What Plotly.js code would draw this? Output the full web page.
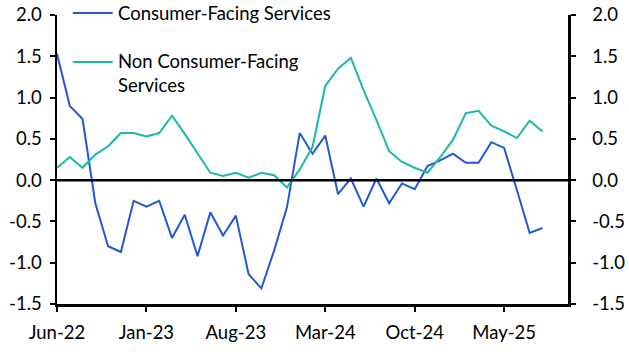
<!DOCTYPE html>
<html>
<head>
<meta charset="utf-8">
<script src="https://cdn.plot.ly/plotly-3.0.1.min.js"></script>
<style>html,body{margin:0;padding:0;background:#fff}#chart{width:629px;height:354px}</style>
</head>
<body>
<div id="chart"></div>
<script>
const months = ["Jun-22","Jul-22","Aug-22","Sep-22","Oct-22","Nov-22","Dec-22",
  "Jan-23","Feb-23","Mar-23","Apr-23","May-23","Jun-23","Jul-23",
  "Aug-23","Sep-23","Oct-23","Nov-23","Dec-23","Jan-24","Feb-24",
  "Mar-24","Apr-24","May-24","Jun-24","Jul-24","Aug-24","Sep-24",
  "Oct-24","Nov-24","Dec-24","Jan-25","Feb-25","Mar-25","Apr-25",
  "May-25","Jun-25","Jul-25","Aug-25"];
const consumerFacing = [1.53,0.90,0.74,-0.28,-0.80,-0.87,-0.25,
  -0.32,-0.25,-0.70,-0.42,-0.92,-0.39,-0.67,
  -0.43,-1.14,-1.31,-0.85,-0.33,0.57,0.32,
  0.54,-0.17,0.02,-0.32,0.02,-0.28,-0.04,
  -0.11,0.17,0.24,0.32,0.21,0.21,0.46,
  0.39,-0.12,-0.64,-0.58];
const nonConsumerFacing = [0.15,0.28,0.15,0.31,0.41,0.57,0.57,
  0.53,0.57,0.78,0.56,0.33,0.09,0.05,
  0.09,0.03,0.09,0.06,-0.09,0.13,0.40,
  1.14,1.35,1.48,1.09,0.73,0.35,0.22,
  0.15,0.09,0.28,0.49,0.81,0.84,0.66,
  0.59,0.51,0.72,0.59];
const tickMonths = ["Jun-22","Jan-23","Aug-23","Mar-24","Oct-24","May-25"];
const yTicks = [-1.5,-1.0,-0.5,0.0,0.5,1.0,1.5,2.0];
const seriesNames = ["Consumer-Facing Services","Non Consumer-Facing<br>Services"];
const colors = ["#2358D4","#1DB8A6"];

const FONT = "Lato, 'Noto Sans', sans-serif";
const FS = 18.5;
const traces = [
  {x: months, y: nonConsumerFacing, type:"scatter", mode:"lines", name:seriesNames[1],
   line:{color:colors[1], width:2}, showlegend:false, yaxis:"y2"},
  {x: months, y: consumerFacing, type:"scatter", mode:"lines", name:seriesNames[0],
   line:{color:colors[0], width:2}, showlegend:false}
];
const yTickText = yTicks.map(v => v.toFixed(1));
const axY = {
  range:[-1.5,2.0], tickvals:yTicks, ticktext:yTickText,
  showgrid:false, zeroline:false, showline:true, linecolor:"#000", linewidth:2.5,
  ticks:"outside", ticklen:5, tickwidth:2, tickcolor:"#000",
  tickfont:{family:FONT, size:FS, color:"#000"}, fixedrange:true
};
const layout = {
  width:629, height:354,
  margin:{l:57, r:61, t:15, b:50},
  paper_bgcolor:"#fff", plot_bgcolor:"#fff",
  showlegend:false,
  xaxis:{type:"category", categoryorder:"array", categoryarray:months,
    range:[0,40], tickvals:tickMonths, ticktext:tickMonths,
    showgrid:false, zeroline:false, showline:true, linecolor:"#000", linewidth:2.5,
    ticks:"outside", ticklen:5, tickwidth:2, tickcolor:"#000", ticklabelstandoff:5,
    tickfont:{family:FONT, size:FS, color:"#000"}},
  yaxis:Object.assign({}, axY, {side:"left", ticklabelstandoff:4}),
  yaxis2:Object.assign({}, axY, {side:"right", overlaying:"y", ticklabelstandoff:13}),
  shapes:[
    {type:"line", xref:"paper", yref:"y", x0:0, x1:1, y0:0, y1:0, line:{color:"#000", width:2.5}},
    {type:"line", xref:"paper", yref:"paper", x0:0.031, x1:0.109, y0:1.007, y1:1.007, line:{color:colors[0], width:2}},
    {type:"line", xref:"paper", yref:"paper", x0:0.031, x1:0.109, y0:0.837, y1:0.837, line:{color:colors[1], width:2}}
  ],
  annotations:[
    {xref:"paper", yref:"paper", x:0.116, y:1.007, xanchor:"left", yanchor:"middle",
     text:seriesNames[0], showarrow:false, align:"left", font:{family:FONT, size:FS, color:"#000"}},
    {xref:"paper", yref:"paper", x:0.116, y:0.885, xanchor:"left", yanchor:"top",
     text:seriesNames[1], showarrow:false, align:"left", font:{family:FONT, size:FS, color:"#000"}}
  ]
};
Plotly.newPlot("chart", traces, layout, {displayModeBar:false, staticPlot:true});
</script>
</body>
</html>
